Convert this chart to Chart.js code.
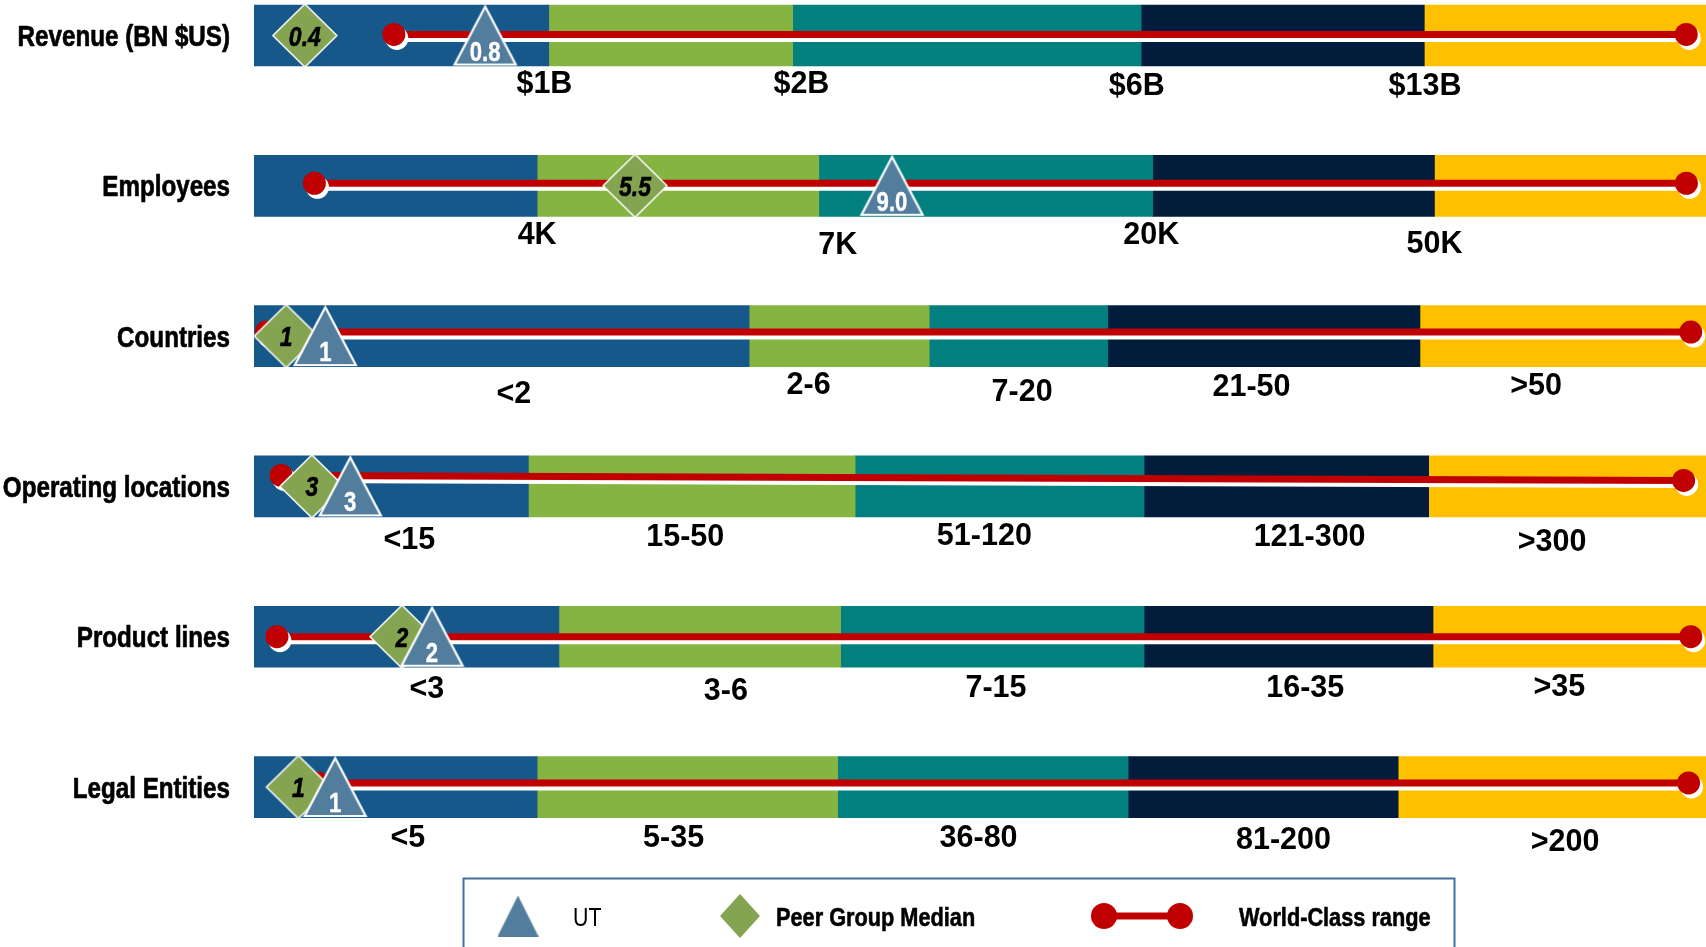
<!DOCTYPE html>
<html>
<head>
<meta charset="utf-8">
<script src="https://cdn.jsdelivr.net/npm/chart.js@4.4.1/dist/chart.umd.min.js"></script>
<style>
  html, body { margin: 0; padding: 0; background: #ffffff; }
  #wrap { width: 1706px; height: 947px; }
</style>
</head>
<body>
<div id="wrap"><canvas id="c" width="1706" height="947"></canvas></div>
<script>
// ---- metrics shown, top to bottom ----
const metrics = ['Revenue (BN $US)', 'Employees', 'Countries', 'Operating locations', 'Product lines', 'Legal Entities'];

// ---- band boundaries along each track (0-100 of the track length) ----
const revenueBands   = [0, 20.3, 37.1, 61.1, 80.6, 100];
const employeeBands  = [0, 19.5, 38.9, 61.9, 81.3, 100];
const countryBands   = [0, 34.1, 46.5, 58.8, 80.3, 100];
const locationBands  = [0, 18.9, 41.4, 61.3, 80.9, 100];
const productBands   = [0, 21.0, 40.4, 61.3, 81.2, 100];
const entityBands    = [0, 19.5, 40.2, 60.2, 78.8, 100];
const bandBounds = [revenueBands, employeeBands, countryBands, locationBands, productBands, entityBands];

// ---- band captions and where they sit on the track ----
const revenueCaptions  = ['$1B', '$2B', '$6B', '$13B'];
const employeeCaptions = ['4K', '7K', '20K', '50K'];
const countryCaptions  = ['<2', '2-6', '7-20', '21-50', '>50'];
const locationCaptions = ['<15', '15-50', '51-120', '121-300', '>300'];
const productCaptions  = ['<3', '3-6', '7-15', '16-35', '>35'];
const entityCaptions   = ['<5', '5-35', '36-80', '81-200', '>200'];
const bandCaptions = [revenueCaptions, employeeCaptions, countryCaptions, locationCaptions, productCaptions, entityCaptions];

const revenueCaptionAt  = [20.0, 37.7, 60.8, 80.65];
const employeeCaptionAt = [19.5, 40.2, 61.8, 81.3];
const countryCaptionAt  = [17.9, 38.2, 52.9, 68.7, 88.3];
const locationCaptionAt = [10.7, 29.7, 50.3, 72.7, 89.4];
const productCaptionAt  = [11.9, 32.5, 51.1, 72.4, 89.9];
const entityCaptionAt   = [10.6, 28.9, 49.9, 70.9, 90.3];
const bandCaptionAt = [revenueCaptionAt, employeeCaptionAt, countryCaptionAt, locationCaptionAt, productCaptionAt, entityCaptionAt];

// ---- UT (triangle) and peer group median (diamond) ----
const utValues   = ['0.8', '9.0', '1', '3', '2', '1'];
const utAt       = [15.92, 43.94, 4.91, 6.63, 12.26, 5.59];
const peerValues = ['0.4', '5.5', '1', '3', '2', '1'];
const peerAt     = [3.50, 26.24, 2.22, 3.99, 10.19, 3.06];

// ---- world-class range (start / end on the track, with its level on the row) ----
const worldClassFrom      = [9.63, 4.16, 0.85, 1.87, 1.58, 4.4];
const worldClassTo        = [98.64, 98.65, 98.95, 98.46, 98.95, 98.8];
const worldClassFromLevel = [-0.007, -0.017, -0.027, -0.073, 0, -0.027];
const worldClassToLevel   = [-0.007, -0.017, -0.027, -0.040, 0, -0.027];

// ---- styling ----
const bandColors = ['#16588A', '#85B443', '#01807F', '#021D3B', '#FFC000'];
const UT_COLOR = '#527D9C';
const PEER_COLOR = '#85A452';
const RANGE_COLOR = '#C00000';
const SANS = '"Liberation Sans", Arial, Helvetica, sans-serif';
const NARROW_X = 0.82;          // horizontal squeeze giving a narrow face
const BAR_THICKNESS = 61;
// vertical drop (px) of each band caption below its bar
const captionDrop = [
  [16, 16, 18, 18],
  [17, 27, 17, 26],
  [25, 16.5, 23, 18.5, 17.5],
  [21, 18, 17, 18.5, 23.5],
  [20, 22, 19, 19, 18],
  [18, 18, 18, 20, 22.5]
];

// text in a condensed cut of the sans face; `heavy` thickens the strokes a little
function narrowText(ctx, text, x, y, font, align, color, heavy) {
  ctx.save();
  ctx.translate(x, y);
  ctx.scale(NARROW_X, 1);
  ctx.font = font;
  ctx.textAlign = align;
  ctx.fillStyle = color;
  ctx.fillText(text, 0, 0);
  if (heavy) {
    ctx.strokeStyle = color;
    ctx.lineWidth = heavy;
    ctx.lineJoin = 'round';
    ctx.strokeText(text, 0, 0);
  }
  ctx.restore();
}

// marker glyphs
function makeTriangle(w, h, fill, stroke, lw) {
  const p = lw ? Math.ceil(lw) + 1 : 0;
  const c = document.createElement('canvas');
  c.width = w + 2 * p; c.height = h + 2 * p;
  const g = c.getContext('2d');
  g.beginPath();
  g.moveTo(p + w / 2, p);
  g.lineTo(p + w, p + h);
  g.lineTo(p, p + h);
  g.closePath();
  g.fillStyle = fill; g.fill();
  if (lw) { g.strokeStyle = stroke; g.lineWidth = lw; g.stroke(); }
  return c;
}
function makeDiamond(w, h, fill, stroke, lw) {
  const p = lw ? Math.ceil(lw) + 1 : 0;
  const c = document.createElement('canvas');
  c.width = w + 2 * p; c.height = h + 2 * p;
  const g = c.getContext('2d');
  g.beginPath();
  g.moveTo(p + w / 2, p);
  g.lineTo(p + w, p + h / 2);
  g.lineTo(p + w / 2, p + h);
  g.lineTo(p, p + h / 2);
  g.closePath();
  g.fillStyle = fill; g.fill();
  if (lw) { g.strokeStyle = stroke; g.lineWidth = lw; g.stroke(); }
  return c;
}
const triangleGlyph = makeTriangle(61, 58, UT_COLOR, '#ffffff', 2.2);
const diamondGlyph  = makeDiamond(64, 63, PEER_COLOR, '#ffffff', 1.5);

// ---- datasets ----
const bandSets = bandColors.map((color, k) => ({
  type: 'bar',
  indexAxis: 'y',
  grouped: false,
  order: 5,
  backgroundColor: color,
  borderWidth: 0,
  barThickness: BAR_THICKNESS,
  data: bandBounds.map((b, r) => ({ y: r, x: [b[k], b[k + 1]] }))
}));

const rangeSets = metrics.map((m, r) => ({
  type: 'line',
  role: 'range',
  order: 3,
  clip: false,
  borderColor: RANGE_COLOR,
  borderWidth: 7,
  pointRadius: 11.5,
  pointBackgroundColor: RANGE_COLOR,
  pointBorderWidth: 0,
  tension: 0,
  data: [
    { x: worldClassFrom[r], y: r + worldClassFromLevel[r] },
    { x: worldClassTo[r], y: r + worldClassToLevel[r] }
  ]
}));

const peerSet = {
  type: 'scatter',
  role: 'peer',
  order: 2,
  clip: false,
  pointStyle: diamondGlyph,
  pointRadius: 30,
  data: peerAt.map((x, r) => ({ x, y: r })),
  valueText: peerValues
};

const utSet = {
  type: 'scatter',
  role: 'ut',
  order: 1,
  clip: false,
  pointStyle: triangleGlyph,
  pointRadius: 30,
  data: utAt.map((x, r) => ({ x, y: r })),
  valueText: utValues
};

// ---- drawing helpers: white under-shadow on the range lines, marker values, labels, legend ----
const decor = {
  id: 'decor',
  beforeDatasetDraw(chart, args) {
    const ds = chart.data.datasets[args.index];
    if (ds.role === 'range') {
      const ctx = chart.ctx;
      ctx.save();
      ctx.shadowColor = '#ffffff';
      ctx.shadowOffsetX = 3;
      ctx.shadowOffsetY = 4;
      ctx.shadowBlur = 0;
    }
  },
  afterDatasetDraw(chart, args) {
    const ds = chart.data.datasets[args.index];
    const ctx = chart.ctx;
    if (ds.role === 'range') { ctx.restore(); return; }
    if (ds.role === 'peer' || ds.role === 'ut') {
      const meta = chart.getDatasetMeta(args.index);
      meta.data.forEach((pt, i) => {
        if (ds.role === 'peer') {
          narrowText(ctx, ds.valueText[i], pt.x, pt.y + 10, 'italic bold 28px ' + SANS, 'center', '#000000', 0.6);
        } else {
          narrowText(ctx, ds.valueText[i], pt.x, pt.y + 25, 'bold 27px ' + SANS, 'center', '#ffffff', 0.4);
        }
      });
    }
  },
  afterDraw(chart) {
    const ctx = chart.ctx;
    const xs = chart.scales.x, ys = chart.scales.y;

    // metric names left of each track
    metrics.forEach((name, r) => {
      narrowText(ctx, name, 230, ys.getPixelForValue(r) + 10.5, 'bold 29.5px ' + SANS, 'right', '#000000', 0.7);
    });

    // band captions under each bar
    ctx.save();
    ctx.font = 'bold 30.5px ' + SANS;
    ctx.fillStyle = '#000000';
    ctx.textAlign = 'center';
    ctx.textBaseline = 'alphabetic';
    bandCaptions.forEach((caps, r) => {
      const bottom = ys.getPixelForValue(r) + BAR_THICKNESS / 2;
      caps.forEach((t, j) => {
        const cy = bottom + captionDrop[r][j];
        ctx.fillText(t, xs.getPixelForValue(bandCaptionAt[r][j]), cy + 11);
      });
    });

    // legend box
    const lx = 463.5, ly = 878.5, lw = 991, lh = 90;
    ctx.strokeStyle = '#41719C';
    ctx.lineWidth = 2;
    ctx.strokeRect(lx, ly, lw, lh);
    const cy = 916;
    ctx.drawImage(makeTriangle(41, 41, UT_COLOR), 518 - 20.5, cy - 20.5);
    ctx.drawImage(makeDiamond(40, 44, PEER_COLOR), 740 - 20, cy - 22);
    ctx.strokeStyle = RANGE_COLOR;
    ctx.lineWidth = 7;
    ctx.beginPath(); ctx.moveTo(1104, cy); ctx.lineTo(1180, cy); ctx.stroke();
    ctx.fillStyle = RANGE_COLOR;
    ctx.beginPath(); ctx.arc(1104, cy, 13, 0, Math.PI * 2); ctx.fill();
    ctx.beginPath(); ctx.arc(1180, cy, 13, 0, Math.PI * 2); ctx.fill();
    ctx.restore();

    narrowText(ctx, 'UT', 573, cy + 9.5, '26px ' + SANS, 'left', '#000000');
    narrowText(ctx, 'Peer Group Median', 776, cy + 9.5, 'bold 26.5px ' + SANS, 'left', '#000000', 0.6);
    narrowText(ctx, 'World-Class range', 1239, cy + 9.5, 'bold 26.5px ' + SANS, 'left', '#000000', 0.6);
  }
};

new Chart(document.getElementById('c'), {
  type: 'bar',
  data: { datasets: [...bandSets, ...rangeSets, peerSet, utSet] },
  plugins: [decor],
  options: {
    responsive: false,
    devicePixelRatio: 1,
    animation: false,
    layout: { autoPadding: false, padding: { left: 254, right: 0, top: 0, bottom: 84.8 } },
    plugins: { legend: { display: false }, tooltip: { enabled: false } },
    scales: {
      x: { type: 'linear', min: 0, max: 100, offset: false, display: false },
      y: { type: 'linear', reverse: true, min: -0.2362, max: 5.5, offset: false, display: false }
    }
  }
});
</script>
</body>
</html>
